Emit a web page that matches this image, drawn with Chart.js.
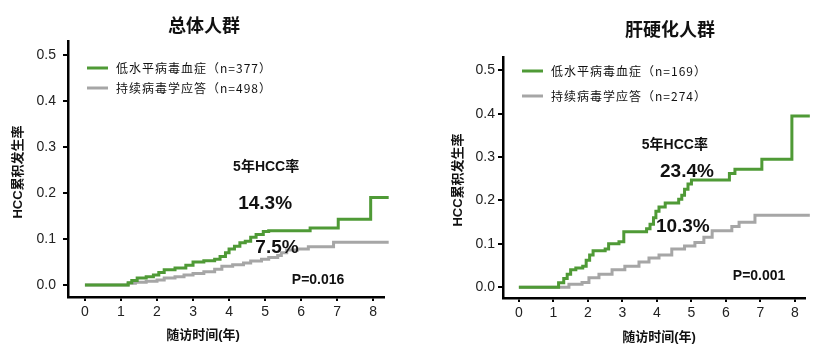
<!DOCTYPE html>
<html>
<head>
<meta charset="utf-8">
<script src="https://cdn.jsdelivr.net/npm/chart.js@4"></script>
<style>
  html, body { margin: 0; padding: 0; background: #fff; }
  #wrap { position: relative; width: 825px; height: 358px; }
  .panel { position: absolute; top: 0; height: 358px; }
</style>
</head>
<body>
<div id="wrap">
  <div class="panel" style="left:0;width:412px"><canvas id="left" width="412" height="358"></canvas></div>
  <div class="panel" style="left:412px;width:413px"><canvas id="right" width="413" height="358"></canvas></div>
</div>
<script>
// tick labels
const xTicks = [0, 1, 2, 3, 4, 5, 6, 7, 8];
const yTicks = [0, 0.1, 0.2, 0.3, 0.4, 0.5];
const seriesNames = ['低水平病毒血症', '持续病毒学应答'];

// 总体人群 - cumulative HCC incidence (time in years, value)
const allLlvT = [0, 1.1, 1.2, 1.3, 1.45, 1.7, 1.9, 2.05, 2.2, 2.5, 2.8, 3.0, 3.3, 3.6, 3.75, 3.9, 4.0, 4.15, 4.3, 4.45, 4.6, 4.75, 4.95, 5.1, 6.25, 7.03, 7.93, 8.43];
const allLlvY = [0, 0, 0.005, 0.01, 0.015, 0.018, 0.022, 0.027, 0.033, 0.037, 0.043, 0.05, 0.053, 0.056, 0.062, 0.07, 0.078, 0.084, 0.092, 0.095, 0.104, 0.11, 0.116, 0.118, 0.124, 0.143, 0.19, 0.19];
const allSvrT = [0, 1.1, 1.2, 1.4, 1.7, 2.0, 2.2, 2.5, 2.75, 3.0, 3.3, 3.6, 3.8, 4.1, 4.4, 4.6, 4.9, 5.1, 5.35, 5.45, 5.6, 5.9, 6.2, 6.9, 8.43];
const allSvrY = [0, 0, 0.004, 0.006, 0.008, 0.011, 0.015, 0.018, 0.022, 0.025, 0.029, 0.034, 0.041, 0.044, 0.048, 0.052, 0.056, 0.06, 0.064, 0.07, 0.076, 0.078, 0.083, 0.093, 0.093];

// 肝硬化人群
const cirLlvT = [0, 1.1, 1.15, 1.3, 1.4, 1.5, 1.65, 1.85, 1.95, 2.05, 2.15, 2.5, 2.6, 2.9, 3.04, 3.7, 3.8, 3.9, 3.97, 4.06, 4.24, 4.63, 4.72, 4.8, 4.9, 5.0, 6.1, 6.26, 7.04, 7.91, 8.43];
const cirLlvY = [0, 0, 0.01, 0.02, 0.03, 0.04, 0.044, 0.048, 0.062, 0.074, 0.084, 0.088, 0.1, 0.105, 0.128, 0.135, 0.145, 0.16, 0.175, 0.185, 0.194, 0.203, 0.212, 0.226, 0.238, 0.247, 0.262, 0.272, 0.295, 0.395, 0.395];
const cirSvrT = [0, 1.1, 1.45, 1.83, 2.03, 2.32, 2.7, 3.07, 3.48, 3.77, 4.06, 4.43, 4.8, 5.1, 5.36, 5.6, 6.17, 6.38, 6.84, 8.43];
const cirSvrY = [0, 0, 0.007, 0.011, 0.022, 0.03, 0.04, 0.048, 0.058, 0.067, 0.074, 0.088, 0.095, 0.103, 0.115, 0.13, 0.14, 0.15, 0.166, 0.166];

const GREEN = '#4f9a36';
const GREY = '#a6a6a6';
const CJK = '"Liberation Sans", "Noto Sans CJK SC", sans-serif';

function toPoints(ts, ys) {
  return ts.map((t, i) => ({ x: t, y: ys[i] }));
}

// draws titles, legend and the rate labels
const panelText = {
  id: 'panelText',
  afterDraw(chart, args, o) {
    const ctx = chart.ctx;
    const xs = chart.scales.x, ys = chart.scales.y;
    ctx.save();
    ctx.fillStyle = '#111';
    ctx.textAlign = 'center';
    ctx.textBaseline = 'middle';

    ctx.font = 'bold 18px "Noto Sans CJK SC", serif';
    ctx.fillText(o.title, o.titlePos[0], o.titlePos[1]);

    ctx.font = 'bold 13px ' + CJK;
    ctx.fillText('随访时间(年)', o.xTitlePos[0], o.xTitlePos[1]);
    ctx.save();
    ctx.translate(o.yTitlePos[0], o.yTitlePos[1]);
    ctx.rotate(-Math.PI / 2);
    ctx.fillText('HCC累积发生率', 0, 0);
    ctx.restore();

    // legend
    ctx.textAlign = 'left';
    ctx.font = '12px "Noto Sans CJK SC", sans-serif';
    ctx.letterSpacing = '1px';
    chart.data.datasets.forEach((ds, i) => {
      const y = o.legend.y + i * o.legend.gap;
      ctx.strokeStyle = ds.borderColor;
      ctx.lineWidth = 3;
      ctx.beginPath();
      ctx.moveTo(o.legend.x, y);
      ctx.lineTo(o.legend.x + 21, y);
      ctx.stroke();
      ctx.fillStyle = '#111';
      ctx.fillText(ds.label + '（n=' + o.counts[i] + '）', o.legend.x + 29, y);
    });
    ctx.letterSpacing = '0px';

    // 5-year rates and p value
    ctx.textAlign = 'center';
    o.notes.forEach(n => {
      ctx.font = n.font;
      ctx.fillText(n.text, xs.getPixelForValue(n.x), ys.getPixelForValue(n.y));
    });
    ctx.restore();
  }
};

function makeChart(id, cfg) {
  new Chart(document.getElementById(id), {
    type: 'line',
    data: {
      datasets: [
        { label: seriesNames[0], data: toPoints(cfg.llvT, cfg.llvY), borderColor: GREEN },
        { label: seriesNames[1], data: toPoints(cfg.svrT, cfg.svrY), borderColor: GREY }
      ]
    },
    options: {
      responsive: false,
      animation: false,
      devicePixelRatio: 1,
      layout: { padding: { left: 0, top: cfg.area.top, right: cfg.area.right, bottom: 0 } },
      elements: {
        line: { borderWidth: 3, stepped: true, fill: false },
        point: { radius: 0 }
      },
      datasets: { line: { clip: 6 } },
      scales: {
        x: {
          type: 'linear',
          min: cfg.xRange[0], max: cfg.xRange[1],
          afterBuildTicks: s => { s.ticks = xTicks.map(v => ({ value: v })); },
          afterFit: s => { s.height = 358 - cfg.area.bottom; },
          grid: { drawOnChartArea: false, drawTicks: true, tickLength: 4, color: '#000', lineWidth: 2 },
          border: { color: '#000', width: 2.5 },
          ticks: { color: '#222', padding: 3, font: { family: '"Liberation Sans", sans-serif', size: 14 } }
        },
        y: {
          min: cfg.yRange[0], max: cfg.yRange[1],
          afterBuildTicks: s => { s.ticks = yTicks.map(v => ({ value: v })); },
          afterFit: s => { s.width = cfg.area.left; },
          grid: { drawOnChartArea: false, drawTicks: true, tickLength: 5, color: '#000', lineWidth: 2 },
          border: { color: '#000', width: 2.5 },
          ticks: {
            color: '#222', padding: cfg.yPad,
            font: { family: '"Liberation Sans", sans-serif', size: 14 },
            callback: v => v.toFixed(1)
          }
        }
      },
      plugins: {
        legend: { display: false },
        tooltip: { enabled: false },
        panelText: cfg.text
      }
    },
    plugins: [panelText]
  });
}

const bigFont = 'bold 19px "Liberation Sans", sans-serif';
const pFont = 'bold 14px "Liberation Sans", sans-serif';
const noteFont = 'bold 14px ' + CJK;

makeChart('left', {
  llvT: allLlvT, llvY: allLlvY, svrT: allSvrT, svrY: allSvrY,
  area: { left: 68, top: 41, right: 28, bottom: 297 },
  xRange: [-0.47, 8.3], yRange: [-0.026, 0.53], yPad: 7,
  text: {
    title: '总体人群', titlePos: [204, 25],
    xTitlePos: [203, 335], yTitlePos: [18, 172],
    legend: { x: 87, y: 68, gap: 20 }, counts: [377, 498],
    notes: [
      { text: '5年HCC率', x: 5.03, y: 0.257, font: noteFont },
      { text: '14.3%', x: 5.0, y: 0.176, font: bigFont },
      { text: '7.5%', x: 5.33, y: 0.08, font: bigFont },
      { text: 'P=0.016', x: 6.47, y: 0.011, font: pFont }
    ]
  }
});

makeChart('right', {
  llvT: cirLlvT, llvY: cirLlvY, svrT: cirSvrT, svrY: cirSvrY,
  area: { left: 91, top: 57, right: 20, bottom: 298 },
  xRange: [-0.46, 8.29], yRange: [-0.025, 0.531], yPad: 3,
  text: {
    title: '肝硬化人群', titlePos: [258, 29],
    xTitlePos: [247, 337], yTitlePos: [46, 180],
    legend: { x: 110, y: 71, gap: 25 }, counts: [169, 274],
    notes: [
      { text: '5年HCC率', x: 4.52, y: 0.328, font: noteFont },
      { text: '23.4%', x: 4.87, y: 0.266, font: bigFont },
      { text: '10.3%', x: 4.75, y: 0.139, font: bigFont },
      { text: 'P=0.001', x: 6.96, y: 0.025, font: pFont }
    ]
  }
});
</script>
</body>
</html>
